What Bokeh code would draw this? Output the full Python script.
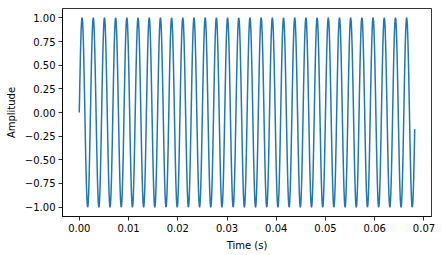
import numpy as np
from bokeh.plotting import figure
from bokeh.models import Range1d, FixedTicker
from bokeh.embed import file_html
from bokeh.resources import INLINE

FREQ_HZ = 440.0
SAMPLE_RATE = 44100
DURATION_S = 0.06812
time_s = np.arange(0, int(round(DURATION_S * SAMPLE_RATE)) + 1) / SAMPLE_RATE
amplitude = np.sin(2 * np.pi * FREQ_HZ * time_s)

x_ticks = [0.00, 0.01, 0.02, 0.03, 0.04, 0.05, 0.06, 0.07]
y_ticks = [-1.00, -0.75, -0.50, -0.25, 0.00, 0.25, 0.50, 0.75, 1.00]

def fmt(v):
    s = f"{abs(v):.2f}"
    return ("\u2212" + s) if v < 0 else s

t_min, t_max = float(time_s[0]), float(time_s[-1])
span = t_max - t_min
a_min, a_max = float(amplitude.min()), float(amplitude.max())
aspan = a_max - a_min

p = figure(width=442, height=255, output_backend="svg", toolbar_location=None,
           x_range=Range1d(t_min - 0.05 * span, t_max + 0.05 * span),
           y_range=Range1d(a_min - 0.05 * aspan, a_max + 0.05 * aspan),
           min_border_left=62, min_border_right=11, min_border_top=8, min_border_bottom=39)

p.line(time_s, amplitude, line_color="#1f77b4", line_width=1.5)

p.background_fill_color = "white"
p.border_fill_color = "white"
p.outline_line_color = "black"
p.outline_line_width = 0.8
p.outline_line_alpha = 1.0
p.xgrid.visible = False
p.ygrid.visible = False

p.xaxis.ticker = FixedTicker(ticks=x_ticks)
p.yaxis.ticker = FixedTicker(ticks=y_ticks)
p.xaxis.major_label_overrides = {v: fmt(v) for v in x_ticks}
p.yaxis.major_label_overrides = {v: fmt(v) for v in y_ticks}
p.xaxis.axis_label = "Time (s)"
p.yaxis.axis_label = "Amplitude"

for ax in (p.xaxis[0], p.yaxis[0]):
    ax.axis_line_color = "black"
    ax.axis_line_width = 0.8
    ax.major_tick_line_color = "black"
    ax.major_tick_line_width = 0.8
    ax.major_tick_out = 4
    ax.major_tick_in = 0
    ax.minor_tick_line_color = None
    ax.major_label_text_font = "DejaVu Sans"
    ax.major_label_text_font_size = "10px"
    ax.major_label_text_color = "black"
    ax.major_label_standoff = 3
    ax.axis_label_text_font = "DejaVu Sans"
    ax.axis_label_text_font_size = "10px"
    ax.axis_label_text_font_style = "normal"
    ax.axis_label_text_color = "black"
    ax.axis_label_standoff = 5

open("out.html", "w").write(file_html(p, INLINE))
